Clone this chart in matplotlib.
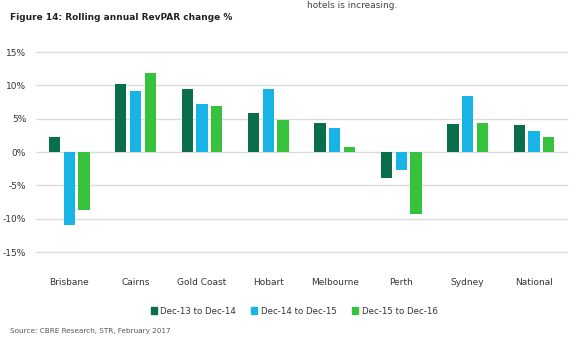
import numpy as np
import matplotlib
matplotlib.use("Agg")
import matplotlib.pyplot as plt
from matplotlib.patches import Patch

plt.rcParams['font.family'] = ['DejaVu Sans']

cities = ["Brisbane", "Cairns", "Gold Coast", "Hobart", "Melbourne", "Perth", "Sydney", "National"]
series = ["Dec-13 to Dec-14", "Dec-14 to Dec-15", "Dec-15 to Dec-16"]
dec13_14 = [2.2, 10.2, 9.5, 5.8, 4.4, -3.9, 4.2, 4.0]
dec14_15 = [-10.9, 9.2, 7.2, 9.5, 3.6, -2.7, 8.4, 3.2]
dec15_16 = [-8.7, 11.8, 6.9, 4.8, 0.7, -9.3, 4.4, 2.2]
colors = ["#0b6e4a", "#19b4e6", "#36c23c"]

fig = plt.figure(figsize=(5.8, 3.52), dpi=100)
ax = fig.add_axes([0.062, 0.284, 0.916, 0.568])

x = np.arange(len(cities))
width = 0.17
step = 0.222
for i, vals in enumerate([dec13_14, dec14_15, dec15_16]):
    ax.bar(x + (i - 1) * step, vals, width, color=colors[i], label=series[i], zorder=3)

ax.set_xlim(-0.5, len(cities) - 0.5)
ax.set_ylim(-15, 15)
ax.set_yticks(np.arange(-15, 16, 5))
ax.set_yticklabels([f"{v}%" for v in range(-15, 16, 5)])
ax.set_xticks(x)
ax.set_xticklabels(cities)
ax.grid(axis="y", color="#dcdcdc", linewidth=1, zorder=0)
for gl in ax.get_ygridlines():
    gl.set_clip_on(False)
for s in ax.spines.values():
    s.set_visible(False)
ax.tick_params(axis="both", length=0, labelsize=6.5, colors="#333333")
ax.tick_params(axis="y", pad=7)
ax.tick_params(axis="x", pad=19)

handles = [Patch(color=c, label=l) for c, l in zip(colors, series)]
fig.legend(handles=handles, loc="center", bbox_to_anchor=(0.507, 1 - 311 / 352), ncol=3,
           frameon=False, fontsize=6.2, handlelength=0.7, handleheight=0.7,
           handletextpad=0.4, columnspacing=1.8, labelcolor="#333333")

fig.text(0.017, 1 - 18 / 352, "Figure 14: Rolling annual RevPAR change %", fontsize=6.5,
         fontweight="bold", color="#222222", va="center")
fig.text(0.53, 0.998, "hotels is increasing.", fontsize=6.5, color="#444444", va="top")
fig.text(0.018, 1 - 331 / 352, "Source: CBRE Research, STR, February 2017", fontsize=5.2,
         color="#555555", va="center")

fig.savefig("out.png", dpi=100)
